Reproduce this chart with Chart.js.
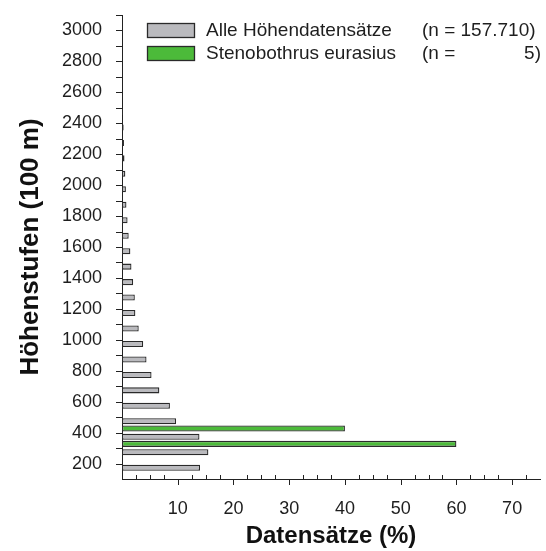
<!DOCTYPE html>
<html>
<head>
<meta charset="utf-8">
<script src="https://cdn.jsdelivr.net/npm/chart.js@4/dist/chart.umd.min.js"></script>
<style>
html, body { margin: 0; padding: 0; background: #fff; }
</style>
</head>
<body>
<canvas id="hoehen" width="546" height="551"></canvas>
<script>
// Höhenstufen (Mitte der 100-m-Bänder)
const baender = [150, 250, 350, 450, 550, 650, 750, 850, 950, 1050,
	1150, 1250, 1350, 1450, 1550, 1650, 1750, 1850, 1950, 2050,
	2150, 2250, 2350, 2450, 2550, 2650, 2750, 2850, 2950, 3050];

// Anteil aller Höhendatensätze (%)
const alleWerte = [14.0, 15.5, 13.9, 9.7, 8.6, 6.7, 5.3, 4.4, 3.8, 3.0,
	2.4, 2.3, 2.0, 1.7, 1.5, 1.2, 1.0, 0.8, 0.7, 0.6,
	0.45, 0.35, 0.3, 0.2, null, null, null, null, null, null];

// Stenobothrus eurasius (%)
const stenoWerte = [null, null, 60, 40, null, null, null, null, null, null,
	null, null, null, null, null, null, null, null, null, null,
	null, null, null, null, null, null, null, null, null, null];

const yBeschriftung = [200, 400, 600, 800, 1000, 1200, 1400, 1600, 1800, 2000,
	2200, 2400, 2600, 2800, 3000];
const xBeschriftung = [10, 20, 30, 40, 50, 60, 70];

const legendNamen = ["Alle Höhendatensätze", "Stenobothrus eurasius"];
const legendN = ["(n = 157.710)", "(n =", "5)"];

const grau = "#bababe";
const gruen = "#4cba3a";
const rand = "#2a2a2a";
const schrift = "'Liberation Sans', Arial, sans-serif";

function punkte(werte) {
	return baender.map((b, i) => ({ x: werte[i], y: b })).filter(p => p.x !== null);
}

const zusatz = {
	id: "zusatz",
	afterDraw(chart) {
		const ctx = chart.ctx;
		const xs = chart.scales.x;
		const ys = chart.scales.y;
		const unten = chart.chartArea.bottom;
		const links = chart.chartArea.left;
		ctx.save();
		ctx.strokeStyle = "#222";
		ctx.lineWidth = 1;
		ctx.beginPath();
		for (let v = 2.5; v < 75; v += 2.5) {
			if (v % 10 === 0) continue;
			const px = Math.round(xs.getPixelForValue(v)) + 0.5;
			ctx.moveTo(px, unten);
			ctx.lineTo(px, unten - 4);
		}
		xBeschriftung.forEach(v => {
			const px = Math.round(xs.getPixelForValue(v)) + 0.5;
			ctx.moveTo(px, unten);
			ctx.lineTo(px, unten + 6);
		});
		for (let v = 200; v <= 3100; v += 100) {
			const py = Math.round(ys.getPixelForValue(v)) + 0.5;
			ctx.moveTo(links, py);
			ctx.lineTo(links - 6, py);
		}
		ctx.stroke();

		// Legende
		const lx = links + 25;
		const reihen = [23, 46];
		const farben = [grau, gruen];
		ctx.font = "19px " + schrift;
		ctx.textBaseline = "middle";
		reihen.forEach((y, i) => {
			ctx.fillStyle = farben[i];
			ctx.fillRect(lx, y, 47, 14);
			ctx.strokeStyle = rand;
			ctx.lineWidth = 1.3;
			ctx.strokeRect(lx + 0.5, y + 0.5, 47, 14);
			ctx.fillStyle = "#1e1e1e";
			ctx.textAlign = "left";
			ctx.fillText(legendNamen[i], lx + 59, y + 8);
		});
		ctx.textAlign = "left";
		ctx.fillText(legendN[0], 422, reihen[0] + 8);
		ctx.fillText(legendN[1], 422, reihen[1] + 8);
		ctx.textAlign = "right";
		ctx.fillText(legendN[2], 541, reihen[1] + 8);
		ctx.restore();
	}
};

new Chart(document.getElementById("hoehen"), {
	type: "bar",
	data: {
		datasets: [
			{
				label: legendNamen[0],
				data: punkte(alleWerte),
				backgroundColor: grau,
				borderColor: rand,
				borderWidth: 1.3,
				borderSkipped: false,
				barPercentage: 0.85,
				categoryPercentage: 0.92,
			},
			{
				label: legendNamen[1],
				data: punkte(stenoWerte),
				backgroundColor: gruen,
				borderColor: rand,
				borderWidth: 1.3,
				borderSkipped: false,
				barPercentage: 0.85,
				categoryPercentage: 0.92,
			},
		],
	},
	options: {
		indexAxis: "y",
		responsive: false,
		animation: false,
		layout: { padding: { top: 15, right: 6, left: 0, bottom: 0 } },
		plugins: {
			legend: { display: false },
			tooltip: { enabled: false },
		},
		scales: {
			x: {
				type: "linear",
				position: "bottom",
				min: 0,
				max: 75,
				grid: { display: false },
				border: { display: true, color: "#222", width: 1 },
				afterBuildTicks(scale) {
					scale.ticks = xBeschriftung.map(v => ({ value: v }));
				},
				ticks: {
					autoSkip: false,
					maxRotation: 0,
					padding: 11,
					color: "#1e1e1e",
					font: { family: schrift, size: 18 },
				},
				title: {
					display: true,
					text: "Datensätze (%)",
					color: "#111",
					padding: { top: 0, bottom: 0 },
					font: { family: schrift, size: 24, weight: "bold" },
				},
				afterFit(scale) {
					scale.height = 72;
					scale.paddingLeft = 0;
					scale.paddingRight = 0;
				},
			},
			y: {
				type: "linear",
				position: "left",
				offset: false,
				min: 100,
				max: 3100,
				afterBuildTicks(scale) {
					scale.ticks = yBeschriftung.map(v => ({ value: v }));
				},
				grid: { display: false, offset: false },
				border: { display: true, color: "#222", width: 1 },
				ticks: {
					autoSkip: false,
					padding: 12,
					color: "#1e1e1e",
					font: { family: schrift, size: 18 },
					callback: v => String(v),
				},
				title: {
					display: true,
					text: "Höhenstufen (100 m)",
					color: "#111",
					padding: { top: 15, bottom: 0 },
					font: { family: schrift, size: 26, weight: "bold" },
				},
				afterFit(scale) {
					scale.width = 122;
					scale.paddingTop = 0;
					scale.paddingBottom = 0;
				},
			},
		},
	},
	plugins: [zusatz],
});
</script>
</body>
</html>
